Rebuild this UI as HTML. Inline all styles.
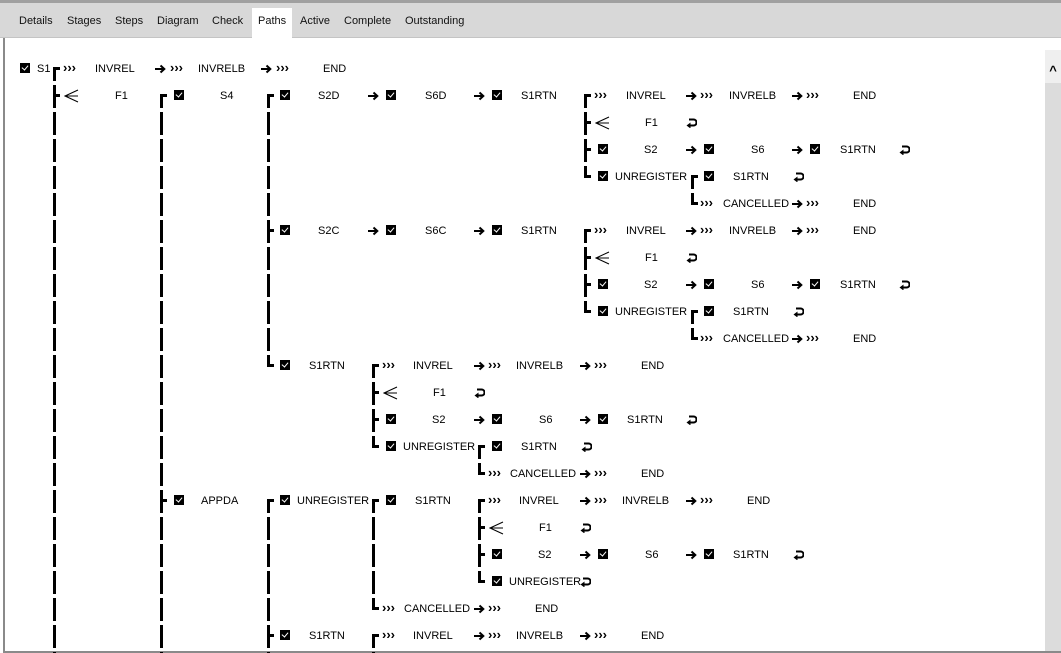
<!DOCTYPE html>
<html><head><meta charset="utf-8"><style>
*{margin:0;padding:0;box-sizing:border-box}
body{width:1061px;height:653px;overflow:hidden;background:#fff;font-family:"Liberation Sans",Arial,sans-serif;font-size:11px;color:#000;position:relative}
#top{position:absolute;left:0;top:0;width:1061px;height:38px;background:#d8d8d8;border-top:3px solid #a0a0a0;border-bottom:1px solid #c4c4c4}
.tab{position:absolute;top:15px;font-size:11px;color:#111}
#paths{position:absolute;left:252px;top:8px;width:40px;height:30px;background:#fff}
#lb{position:absolute;left:3px;top:38px;width:2px;height:615px;background:#8a8a8a}
#bb{position:absolute;left:3px;top:651px;width:1058px;height:2px;background:#8a8a8a}
#sb{position:absolute;left:1045px;top:50px;width:16px;height:601px;background:#dcdcdc}
#sbt{position:absolute;left:1045px;top:50px;width:16px;height:33px;background:#efefef;text-align:center;font-size:13px;font-weight:bold;line-height:42px}
.v{position:absolute;width:3px;background:linear-gradient(to bottom,#000 0 23px,transparent 23px 27px);background-size:3px 27px;background-repeat:repeat-y;background-position:0 18px}
.h{position:absolute;width:7px;height:3px;background:#000}
.c{position:absolute;width:10px;height:10px;background:#000}
.c::after{content:"";position:absolute;left:3px;top:1px;width:3px;height:5px;border-right:1.6px solid #fff;border-bottom:1.6px solid #fff;transform:rotate(40deg)}
.t{position:absolute;line-height:14px;white-space:nowrap;margin-top:1px}
.a{position:absolute;width:11px;height:10px;margin-top:3px}
.g{position:absolute;font-weight:bold;font-size:13px;line-height:12px;margin-top:1px}
.r{position:absolute;width:11px;height:10px;margin-top:3px}
.f{position:absolute;width:15px;height:14px;margin-top:1px}
</style></head><body>
<svg width="0" height="0" style="position:absolute">
<defs>
<symbol id="ar" viewBox="0 0 11 10"><path d="M0 5H9M5.5 1.5L9.3 5L5.5 8.5" stroke="#000" stroke-width="2" fill="none"/></symbol>
<symbol id="rt" viewBox="0 0 11 10"><path d="M3 1.5H7.5A3 3 0 0 1 7.5 7.5H2" stroke="#000" stroke-width="2" fill="none"/><path d="M4.5 4.5L0.5 7.5L4.5 10.5Z" fill="#000"/></symbol>
<symbol id="fk" viewBox="0 0 15 14"><path d="M14 1L1 7L14 13M1 7H14" stroke="#000" stroke-width="1" fill="none"/></symbol>
</defs></svg>
<div id="top"></div>
<div id="paths"></div>
<span class="tab" style="left:19px">Details</span>
<span class="tab" style="left:67px">Stages</span>
<span class="tab" style="left:115px">Steps</span>
<span class="tab" style="left:157px">Diagram</span>
<span class="tab" style="left:212px">Check</span>
<span class="tab" style="left:258px">Paths</span>
<span class="tab" style="left:300px">Active</span>
<span class="tab" style="left:344px">Complete</span>
<span class="tab" style="left:405px">Outstanding</span>
<div id="lb"></div><div id="bb"></div><div id="sb"></div><div id="sbt">^</div>

<div class="v" style="left:53px;top:67px;height:586px"></div>
<div class="v" style="left:160px;top:94px;height:559px"></div>
<div class="v" style="left:267px;top:94px;height:273px"></div>
<div class="v" style="left:267px;top:499px;height:154px"></div>
<div class="v" style="left:584px;top:94px;height:84px"></div>
<div class="v" style="left:584px;top:229px;height:84px"></div>
<div class="v" style="left:691px;top:175px;height:30px"></div>
<div class="v" style="left:691px;top:310px;height:30px"></div>
<div class="v" style="left:372px;top:364px;height:84px"></div>
<div class="v" style="left:372px;top:499px;height:111px"></div>
<div class="v" style="left:372px;top:634px;height:19px"></div>
<div class="v" style="left:478px;top:445px;height:30px"></div>
<div class="v" style="left:478px;top:499px;height:84px"></div>

<div class="h" style="left:53px;top:67px"></div><div class="h" style="left:53px;top:94px"></div>
<div class="h" style="left:160px;top:94px"></div><div class="h" style="left:160px;top:499px"></div>
<div class="h" style="left:267px;top:94px"></div><div class="h" style="left:267px;top:229px"></div><div class="h" style="left:267px;top:364px"></div><div class="h" style="left:267px;top:499px"></div><div class="h" style="left:267px;top:634px"></div>
<div class="h" style="left:584px;top:94px"></div><div class="h" style="left:584px;top:121px"></div><div class="h" style="left:584px;top:148px"></div><div class="h" style="left:584px;top:175px"></div>
<div class="h" style="left:584px;top:229px"></div><div class="h" style="left:584px;top:256px"></div><div class="h" style="left:584px;top:283px"></div><div class="h" style="left:584px;top:310px"></div>
<div class="h" style="left:691px;top:175px"></div><div class="h" style="left:691px;top:202px"></div><div class="h" style="left:691px;top:310px"></div><div class="h" style="left:691px;top:337px"></div>
<div class="h" style="left:372px;top:364px"></div><div class="h" style="left:372px;top:391px"></div><div class="h" style="left:372px;top:418px"></div><div class="h" style="left:372px;top:445px"></div>
<div class="h" style="left:372px;top:499px"></div><div class="h" style="left:372px;top:607px"></div><div class="h" style="left:372px;top:634px"></div>
<div class="h" style="left:478px;top:445px"></div><div class="h" style="left:478px;top:472px"></div><div class="h" style="left:478px;top:499px"></div><div class="h" style="left:478px;top:526px"></div><div class="h" style="left:478px;top:553px"></div><div class="h" style="left:478px;top:580px"></div>

<!-- row 0 -->
<i class="c" style="left:20px;top:63px"></i><span class="t" style="left:37px;top:61px">S1</span>
<span class="g" style="left:63px;top:61px">›››</span><span class="t" style="left:95px;top:61px">INVREL</span>
<svg class="a" style="left:155px;top:61px"><use href="#ar"/></svg><span class="g" style="left:170px;top:61px">›››</span><span class="t" style="left:198px;top:61px">INVRELB</span>
<svg class="a" style="left:261px;top:61px"><use href="#ar"/></svg><span class="g" style="left:276px;top:61px">›››</span><span class="t" style="left:323px;top:61px">END</span>

<!-- row 1 -->
<svg class="f" style="left:64px;top:88px"><use href="#fk"/></svg>
<span class="t" style="left:115px;top:88px">F1</span>
<i class="c" style="left:174px;top:90px"></i><span class="t" style="left:220px;top:88px">S4</span>
<i class="c" style="left:280px;top:90px"></i><span class="t" style="left:318px;top:88px">S2D</span>
<svg class="a" style="left:368px;top:88px"><use href="#ar"/></svg><i class="c" style="left:386px;top:90px"></i><span class="t" style="left:425px;top:88px">S6D</span>
<svg class="a" style="left:474px;top:88px"><use href="#ar"/></svg><i class="c" style="left:492px;top:90px"></i><span class="t" style="left:521px;top:88px">S1RTN</span>
<span class="g" style="left:594px;top:88px">›››</span><span class="t" style="left:626px;top:88px">INVREL</span>
<svg class="a" style="left:686px;top:88px"><use href="#ar"/></svg><span class="g" style="left:700px;top:88px">›››</span><span class="t" style="left:729px;top:88px">INVRELB</span>
<svg class="a" style="left:792px;top:88px"><use href="#ar"/></svg><span class="g" style="left:806px;top:88px">›››</span><span class="t" style="left:853px;top:88px">END</span>
<!-- row 2 -->
<svg class="f" style="left:595px;top:115px"><use href="#fk"/></svg>
<span class="t" style="left:645px;top:115px">F1</span><svg class="r" style="left:686px;top:115px"><use href="#rt"/></svg>
<!-- row 3 -->
<i class="c" style="left:598px;top:144px"></i><span class="t" style="left:644px;top:142px">S2</span>
<svg class="a" style="left:686px;top:142px"><use href="#ar"/></svg><i class="c" style="left:704px;top:144px"></i><span class="t" style="left:751px;top:142px">S6</span>
<svg class="a" style="left:792px;top:142px"><use href="#ar"/></svg><i class="c" style="left:810px;top:144px"></i><span class="t" style="left:840px;top:142px">S1RTN</span><svg class="r" style="left:899px;top:142px"><use href="#rt"/></svg>
<!-- row 4 -->
<i class="c" style="left:598px;top:171px"></i><span class="t" style="left:615px;top:169px">UNREGISTER</span>
<i class="c" style="left:704px;top:171px"></i><span class="t" style="left:733px;top:169px">S1RTN</span><svg class="r" style="left:793px;top:169px"><use href="#rt"/></svg>
<!-- row 5 -->
<span class="g" style="left:700px;top:196px">›››</span><span class="t" style="left:723px;top:196px">CANCELLED</span>
<svg class="a" style="left:792px;top:196px"><use href="#ar"/></svg><span class="g" style="left:806px;top:196px">›››</span><span class="t" style="left:853px;top:196px">END</span>

<!-- row 6 -->
<i class="c" style="left:280px;top:225px"></i><span class="t" style="left:318px;top:223px">S2C</span>
<svg class="a" style="left:368px;top:223px"><use href="#ar"/></svg><i class="c" style="left:386px;top:225px"></i><span class="t" style="left:425px;top:223px">S6C</span>
<svg class="a" style="left:474px;top:223px"><use href="#ar"/></svg><i class="c" style="left:492px;top:225px"></i><span class="t" style="left:521px;top:223px">S1RTN</span>
<span class="g" style="left:594px;top:223px">›››</span><span class="t" style="left:626px;top:223px">INVREL</span>
<svg class="a" style="left:686px;top:223px"><use href="#ar"/></svg><span class="g" style="left:700px;top:223px">›››</span><span class="t" style="left:729px;top:223px">INVRELB</span>
<svg class="a" style="left:792px;top:223px"><use href="#ar"/></svg><span class="g" style="left:806px;top:223px">›››</span><span class="t" style="left:853px;top:223px">END</span>
<!-- row 7 -->
<svg class="f" style="left:595px;top:250px"><use href="#fk"/></svg>
<span class="t" style="left:645px;top:250px">F1</span><svg class="r" style="left:686px;top:250px"><use href="#rt"/></svg>
<!-- row 8 -->
<i class="c" style="left:598px;top:279px"></i><span class="t" style="left:644px;top:277px">S2</span>
<svg class="a" style="left:686px;top:277px"><use href="#ar"/></svg><i class="c" style="left:704px;top:279px"></i><span class="t" style="left:751px;top:277px">S6</span>
<svg class="a" style="left:792px;top:277px"><use href="#ar"/></svg><i class="c" style="left:810px;top:279px"></i><span class="t" style="left:840px;top:277px">S1RTN</span><svg class="r" style="left:899px;top:277px"><use href="#rt"/></svg>
<!-- row 9 -->
<i class="c" style="left:598px;top:306px"></i><span class="t" style="left:615px;top:304px">UNREGISTER</span>
<i class="c" style="left:704px;top:306px"></i><span class="t" style="left:733px;top:304px">S1RTN</span><svg class="r" style="left:793px;top:304px"><use href="#rt"/></svg>
<!-- row 10 -->
<span class="g" style="left:700px;top:331px">›››</span><span class="t" style="left:723px;top:331px">CANCELLED</span>
<svg class="a" style="left:792px;top:331px"><use href="#ar"/></svg><span class="g" style="left:806px;top:331px">›››</span><span class="t" style="left:853px;top:331px">END</span>

<!-- row 11 -->
<i class="c" style="left:280px;top:360px"></i><span class="t" style="left:309px;top:358px">S1RTN</span>
<span class="g" style="left:382px;top:358px">›››</span><span class="t" style="left:413px;top:358px">INVREL</span>
<svg class="a" style="left:474px;top:358px"><use href="#ar"/></svg><span class="g" style="left:488px;top:358px">›››</span><span class="t" style="left:516px;top:358px">INVRELB</span>
<svg class="a" style="left:580px;top:358px"><use href="#ar"/></svg><span class="g" style="left:594px;top:358px">›››</span><span class="t" style="left:641px;top:358px">END</span>
<!-- row 12 -->
<svg class="f" style="left:383px;top:385px"><use href="#fk"/></svg>
<span class="t" style="left:433px;top:385px">F1</span><svg class="r" style="left:474px;top:385px"><use href="#rt"/></svg>
<!-- row 13 -->
<i class="c" style="left:386px;top:414px"></i><span class="t" style="left:432px;top:412px">S2</span>
<svg class="a" style="left:474px;top:412px"><use href="#ar"/></svg><i class="c" style="left:492px;top:414px"></i><span class="t" style="left:539px;top:412px">S6</span>
<svg class="a" style="left:580px;top:412px"><use href="#ar"/></svg><i class="c" style="left:598px;top:414px"></i><span class="t" style="left:627px;top:412px">S1RTN</span><svg class="r" style="left:686px;top:412px"><use href="#rt"/></svg>
<!-- row 14 -->
<i class="c" style="left:386px;top:441px"></i><span class="t" style="left:403px;top:439px">UNREGISTER</span>
<i class="c" style="left:492px;top:441px"></i><span class="t" style="left:521px;top:439px">S1RTN</span><svg class="r" style="left:581px;top:439px"><use href="#rt"/></svg>
<!-- row 15 -->
<span class="g" style="left:488px;top:466px">›››</span><span class="t" style="left:510px;top:466px">CANCELLED</span>
<svg class="a" style="left:580px;top:466px"><use href="#ar"/></svg><span class="g" style="left:594px;top:466px">›››</span><span class="t" style="left:641px;top:466px">END</span>

<!-- row 16 -->
<i class="c" style="left:174px;top:495px"></i><span class="t" style="left:201px;top:493px">APPDA</span>
<i class="c" style="left:280px;top:495px"></i><span class="t" style="left:297px;top:493px">UNREGISTER</span>
<i class="c" style="left:386px;top:495px"></i><span class="t" style="left:415px;top:493px">S1RTN</span>
<span class="g" style="left:488px;top:493px">›››</span><span class="t" style="left:519px;top:493px">INVREL</span>
<svg class="a" style="left:580px;top:493px"><use href="#ar"/></svg><span class="g" style="left:594px;top:493px">›››</span><span class="t" style="left:622px;top:493px">INVRELB</span>
<svg class="a" style="left:686px;top:493px"><use href="#ar"/></svg><span class="g" style="left:700px;top:493px">›››</span><span class="t" style="left:747px;top:493px">END</span>
<!-- row 17 -->
<svg class="f" style="left:489px;top:520px"><use href="#fk"/></svg>
<span class="t" style="left:539px;top:520px">F1</span><svg class="r" style="left:580px;top:520px"><use href="#rt"/></svg>
<!-- row 18 -->
<i class="c" style="left:492px;top:549px"></i><span class="t" style="left:538px;top:547px">S2</span>
<svg class="a" style="left:580px;top:547px"><use href="#ar"/></svg><i class="c" style="left:598px;top:549px"></i><span class="t" style="left:645px;top:547px">S6</span>
<svg class="a" style="left:686px;top:547px"><use href="#ar"/></svg><i class="c" style="left:704px;top:549px"></i><span class="t" style="left:733px;top:547px">S1RTN</span><svg class="r" style="left:793px;top:547px"><use href="#rt"/></svg>
<!-- row 19 -->
<i class="c" style="left:492px;top:576px"></i><span class="t" style="left:509px;top:574px">UNREGISTER</span><svg class="r" style="left:580px;top:574px"><use href="#rt"/></svg>
<!-- row 20 -->
<span class="g" style="left:382px;top:601px">›››</span><span class="t" style="left:404px;top:601px">CANCELLED</span>
<svg class="a" style="left:474px;top:601px"><use href="#ar"/></svg><span class="g" style="left:488px;top:601px">›››</span><span class="t" style="left:535px;top:601px">END</span>
<!-- row 21 -->
<i class="c" style="left:280px;top:630px"></i><span class="t" style="left:309px;top:628px">S1RTN</span>
<span class="g" style="left:382px;top:628px">›››</span><span class="t" style="left:413px;top:628px">INVREL</span>
<svg class="a" style="left:474px;top:628px"><use href="#ar"/></svg><span class="g" style="left:488px;top:628px">›››</span><span class="t" style="left:516px;top:628px">INVRELB</span>
<svg class="a" style="left:580px;top:628px"><use href="#ar"/></svg><span class="g" style="left:594px;top:628px">›››</span><span class="t" style="left:641px;top:628px">END</span>
</body></html>
